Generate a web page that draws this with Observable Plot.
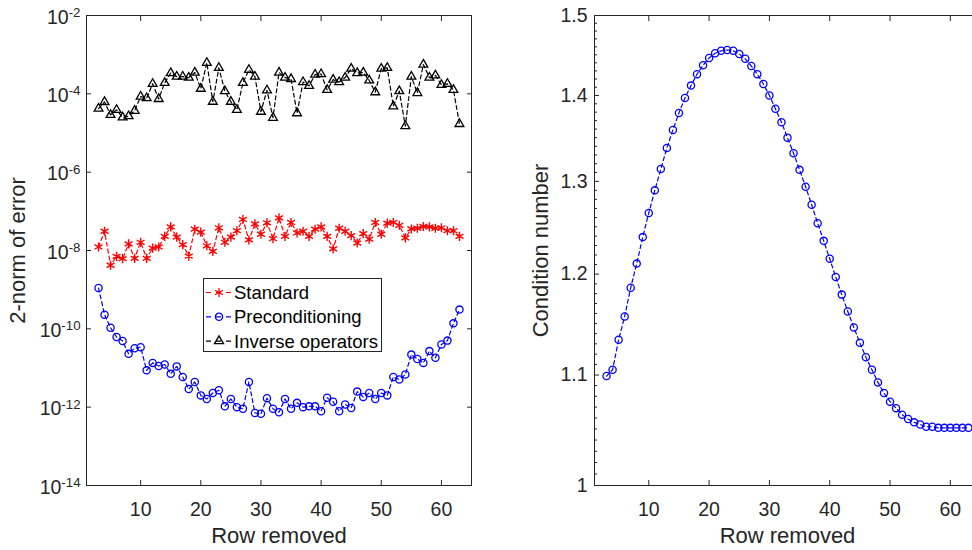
<!DOCTYPE html>
<html><head><meta charset="utf-8">
<script src="https://cdn.jsdelivr.net/npm/d3@7"></script>
<script src="https://cdn.jsdelivr.net/npm/@observablehq/plot@0.6"></script>
<style>
body{margin:0;background:#fff;}
#fig{position:relative;width:972px;height:550px;overflow:hidden;font-family:"Liberation Sans",Arial,sans-serif;background:#fff;}
#left{position:absolute;left:0;top:0;width:480px;height:550px;}
#right{position:absolute;left:480px;top:0;width:506px;height:550px;}
#legend{position:absolute;left:203px;top:278px;width:179px;height:74px;box-sizing:border-box;border:1px solid #262626;background:#fff;}
</style></head><body>
<div id="fig"><div id="left"></div><div id="right"></div><div id="legend"></div></div>
<script>
// ---- data ----
const rows = [3,4,5,6,7,8,9,10,11,12,13,14,15,16,17,18,19,20,21,22,23,24,25,26,27,28,29,30,31,32,33,
  34,35,36,37,38,39,40,41,42,43,44,45,46,47,48,49,50,51,52,53,54,55,56,57,58,59,60,61,62,63];
const standard = [1.23e-8,3.1e-8,4.2e-9,7.1e-9,6.2e-9,1.48e-8,6.3e-9,1.62e-8,6.3e-9,1.15e-8,1.23e-8,2.3e-8,4.0e-8,2.2e-8,1.41e-8,7.2e-9,
  3.5e-8,2.95e-8,1.32e-8,9.5e-9,3.8e-8,1.62e-8,2.2e-8,3.2e-8,6.2e-8,1.86e-8,4.8e-8,2.6e-8,5.1e-8,2.0e-8,6.8e-8,2.3e-8,
  5.2e-8,2.8e-8,3.1e-8,2.3e-8,3.5e-8,4.0e-8,2.3e-8,1.1e-8,3.7e-8,3.1e-8,2.4e-8,1.55e-8,2.7e-8,1.95e-8,5.2e-8,2.6e-8,
  5.0e-8,5.2e-8,4.4e-8,2.1e-8,3.55e-8,3.7e-8,4.1e-8,4.0e-8,3.7e-8,3.8e-8,3.2e-8,3.2e-8,2.3e-8];
const preconditioning = [1.1e-9,2.3e-10,1.07e-10,6.2e-11,4.9e-11,2.3e-11,3.2e-11,3.4e-11,8.7e-12,1.35e-11,1.12e-11,1.23e-11,7.1e-12,1.1e-11,
  5.9e-12,2.9e-12,4.4e-12,2.0e-12,1.62e-12,2.3e-12,2.7e-12,1.05e-12,1.62e-12,1.0e-12,9.1e-13,4.4e-12,7.1e-13,6.8e-13,
  1.7e-12,9.1e-13,7.4e-13,1.62e-12,9.1e-13,1.29e-12,1.0e-12,1.05e-12,1.05e-12,7.9e-13,1.74e-12,1.38e-12,7.9e-13,1.17e-12,
  9.5e-13,2.5e-12,1.82e-12,2.3e-12,1.62e-12,2.3e-12,2.0e-12,5.9e-12,5.1e-12,6.8e-12,2.2e-11,1.7e-11,1.35e-11,2.7e-11,
  1.82e-11,4.0e-11,5.0e-11,1.38e-10,3.1e-10];
const inverseOps = [4.2e-5,6.2e-5,2.9e-5,3.9e-5,2.5e-5,2.7e-5,3.7e-5,8.5e-5,7.8e-5,1.8e-4,7.4e-5,1.9e-4,3.4e-4,2.75e-4,2.75e-4,2.6e-4,
  3.5e-4,1.35e-4,6.2e-4,6.3e-5,4.6e-4,1.17e-4,6.3e-5,3.9e-5,1.9e-4,4.1e-4,2.75e-4,3.5e-5,1.23e-4,2.45e-5,3.5e-4,2.6e-4,
  2.4e-4,3.2e-5,2.0e-4,1.6e-4,3.1e-4,3.2e-4,1.26e-4,2.3e-4,2.0e-4,2.6e-4,4.4e-4,3.4e-4,3.5e-4,2.2e-4,1.1e-4,4.4e-4,
  4.6e-4,4.8e-5,1.17e-4,1.5e-5,2.75e-4,1.05e-4,5.6e-4,2.6e-4,2.95e-4,1.7e-4,1.8e-4,1.26e-4,1.7e-5];
const condition = [1.099,1.105,1.134,1.157,1.186,1.211,1.239,1.265,1.290,1.314,1.338,1.359,1.379,1.397,1.412,1.426,1.437,1.446,
  1.452,1.455,1.456,1.455,1.451,1.445,1.436,1.426,1.414,1.400,1.384,1.368,1.350,1.332,1.313,1.294,1.274,1.254,1.235,1.216,
  1.197,1.179,1.162,1.146,1.131,1.117,1.105,1.093,1.083,1.075,1.069,1.063,1.059,1.056,1.054,1.052,1.052,1.051,1.051,1.051,
  1.051,1.051,1.051];
const seriesNames = ["Standard","Preconditioning","Inverse operators"];
const xTicks = [10,20,30,40,50,60];
const yTicksLeft = [1e-14,1e-12,1e-10,1e-8,1e-6,1e-4,1e-2];
const yTicksRight = [1,1.1,1.2,1.3,1.4,1.5];
const yMinorRight = [1.01,1.02,1.03,1.04,1.05,1.06,1.07,1.08,1.09,1.11,1.12,1.13,1.14,1.15,1.16,1.17,1.18,1.19,
  1.21,1.22,1.23,1.24,1.25,1.26,1.27,1.28,1.29,1.31,1.32,1.33,1.34,1.35,1.36,1.37,1.38,1.39,1.41,1.42,1.43,1.44,1.45,1.46,1.47,1.48,1.49];
const xLabel = "Row removed";
const yLabelLeft = "2-norm of error";
const yLabelRight = "Condition number";

// ---- build ----
const ink = "#262626";
const tbl = (ys) => rows.map((r, i) => ({x: r, y: ys[i]}));
const dStd = tbl(standard), dPre = tbl(preconditioning), dInv = tbl(inverseOps), dCond = tbl(condition);
const baseStyle = {fontFamily: '"Liberation Sans", Arial, sans-serif', fontSize: "19.5px", color: ink, background: "transparent", overflow: "visible", maxWidth: "none"};
const dash = "4,3";

function xAxes() {
  return [
    Plot.axisX({anchor: "bottom", ticks: xTicks, tickSize: 0, tickPadding: 17, tickFormat: d => String(d),
      label: xLabel, labelAnchor: "center", labelOffset: 57, labelArrow: "none"}),
    Plot.axisX({anchor: "bottom", ticks: xTicks, tickSize: -5, fill: "none", label: null}),
    Plot.axisX({anchor: "top", ticks: xTicks, tickSize: -5, fill: "none", label: null})
  ];
}

const left = Plot.plot({
  width: 480, height: 550, marginLeft: 86, marginRight: 9, marginTop: 15, marginBottom: 65,
  style: baseStyle,
  x: {domain: [1, 65]},
  y: {type: "log", domain: [1e-14, 1e-2]},
  marks: [
    ...xAxes(),
    Plot.axisY({anchor: "left", ticks: yTicksLeft, tickSize: 0, tickPadding: 6,
      tickFormat: d => "10^" + Math.round(Math.log10(d)),
      label: yLabelLeft, labelAnchor: "center", labelOffset: 77, labelArrow: "none"}),
    Plot.axisY({anchor: "left", ticks: yTicksLeft, tickSize: -5, fill: "none", label: null}),
    Plot.axisY({anchor: "right", ticks: yTicksLeft, tickSize: -5, fill: "none", label: null}),
    Plot.line(dStd, {x: "x", y: "y", stroke: "#ff0000", strokeWidth: 1.2, strokeDasharray: dash}),
    Plot.dot(dStd, {x: "x", y: "y", symbol: "asterisk", r: 4.3, stroke: "#ff0000", strokeWidth: 1.4}),
    Plot.line(dPre, {x: "x", y: "y", stroke: "#0000ff", strokeWidth: 1.2, strokeDasharray: dash}),
    Plot.dot(dPre, {x: "x", y: "y", symbol: "circle", r: 3.6, stroke: "#0000ff", fill: "none", strokeWidth: 1.3}),
    Plot.line(dInv, {x: "x", y: "y", stroke: "#000", strokeWidth: 1.2, strokeDasharray: dash}),
    Plot.dot(dInv, {x: "x", y: "y", symbol: "triangle2", r: 4.2, stroke: "#000", fill: "none", strokeWidth: 1.3}),
    Plot.frame({stroke: ink, strokeWidth: 1})
  ]
});

const right = Plot.plot({
  width: 506, height: 550, marginLeft: 114, marginRight: 6, marginTop: 15, marginBottom: 65,
  style: baseStyle,
  x: {domain: [1, 65]},
  y: {type: "log", domain: [1, 1.5]},
  marks: [
    ...xAxes(),
    Plot.axisY({anchor: "left", ticks: yTicksRight, tickSize: 0, tickPadding: 7,
      tickFormat: d => (d === 1 ? "1" : d.toFixed(1)),
      label: yLabelRight, labelAnchor: "center", labelOffset: 62, labelArrow: "none"}),
    Plot.axisY({anchor: "left", ticks: yTicksRight, tickSize: -5, fill: "none", label: null}),
    Plot.axisY({anchor: "left", ticks: yMinorRight, tickSize: -3, fill: "none", label: null}),
    Plot.axisY({anchor: "right", ticks: yTicksRight, tickSize: -5, fill: "none", label: null}),
    Plot.line(dCond, {x: "x", y: "y", stroke: "#0000ff", strokeWidth: 1.2, strokeDasharray: dash}),
    Plot.dot(dCond, {x: "x", y: "y", symbol: "circle", r: 3.6, stroke: "#0000ff", fill: "none", strokeWidth: 1.3}),
    Plot.frame({stroke: ink, strokeWidth: 1})
  ]
});

document.getElementById("left").append(left);
document.getElementById("right").append(right);

// superscript exponents on log tick labels
d3.select(left).selectAll('g[aria-label="y-axis tick label"] text').each(function() {
  const t = d3.select(this);
  const s = t.text();
  const m = s.match(/^10\^(-?\d+)$/);
  if (!m) return;
  t.text(null);
  t.attr("transform", function() { const tr = this.getAttribute("transform") || ""; return tr + " translate(0,2)"; });
  t.append("tspan").text("10");
  t.append("tspan").attr("dy", "-0.5em").attr("font-size", "0.68em").text(m[1]);
});
// axis label sizes
for (const svg of [left, right]) {
  d3.select(svg).selectAll('g[aria-label="x-axis label"] text, g[aria-label="y-axis label"] text').attr("font-size", "22px");
  d3.select(svg).selectAll('g[aria-label="y-axis tick label"], g[aria-label="x-axis tick label"]').attr("fill", ink);
}

// legend
const lg = d3.select("#legend").append("svg").attr("width", 177).attr("height", 72)
  .style("position", "absolute").style("left", "0").style("top", "0")
  .style("font-family", '"Liberation Sans", Arial, sans-serif');
const legendStyles = [
  {color: "#ff0000", sym: d3.symbolAsterisk, fill: "none"},
  {color: "#0000ff", sym: d3.symbolCircle, fill: "none"},
  {color: "#000000", sym: d3.symbolTriangle2, fill: "none"}
];
seriesNames.forEach((name, i) => {
  const y = 13.5 + i * 24.3;
  const st = legendStyles[i];
  lg.append("line").attr("x1", 2).attr("x2", 28).attr("y1", y).attr("y2", y)
    .attr("stroke", st.color).attr("stroke-width", 1.2).attr("stroke-dasharray", "5,5");
  lg.append("path").attr("transform", `translate(15,${y})`)
    .attr("d", d3.symbol(st.sym, i === 1 ? Math.PI * 3.6 * 3.6 : Math.PI * 4.3 * 4.3)())
    .attr("fill", "none").attr("stroke", st.color).attr("stroke-width", 1.3);
  lg.append("text").attr("x", 30).attr("y", y).attr("dy", "0.35em")
    .attr("font-size", "18.5px").attr("fill", "#000").text(name);
});
</script>
</body></html>
